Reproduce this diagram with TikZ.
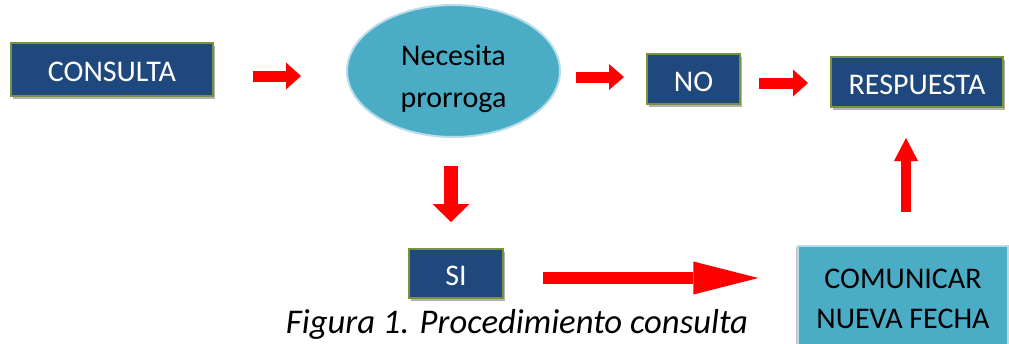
\documentclass[tikz,border=0pt]{standalone}
\usepackage{fontspec}
\setmainfont{Carlito}
\usetikzlibrary{arrows.meta,shapes.geometric,shadows}
\definecolor{dblue}{HTML}{1F497D}
\definecolor{olivebd}{HTML}{77933C}
\definecolor{tealfill}{HTML}{4BACC6}
\definecolor{tealedge}{HTML}{B6DDE8}
\begin{document}
\begin{tikzpicture}[x=0.75pt,y=-0.75pt,
  dbox/.style={draw=olivebd, line width=1.5pt, fill=dblue, text=white,
    font=\fontsize{22.5pt}{27pt}\selectfont, inner sep=0pt,
    text height=18.5pt, text depth=0pt,
    drop shadow={shadow xshift=1.5pt, shadow yshift=-2.2pt, opacity=0.3, fill=black}},
  lbox/.style={draw=tealedge, line width=1pt, fill=tealfill, text=black,
    font=\fontsize{22.5pt}{30pt}\selectfont, inner sep=0pt, align=center},
  blk/.style n args={3}{draw=red, line width=#1,
    -{Triangle[length=#2, width=#3, line width=0pt]}}]
\useasboundingbox (0,0) rectangle (1009,343);
% nodes
\node[dbox, minimum width=151.5pt, minimum height=39.75pt] (consulta) at (112,69.5) {CONSULTA};
\node[lbox, ellipse, line width=1.5pt, minimum width=159.75pt, minimum height=99pt] (ell) at (453.5,71) {};
\node[font=\fontsize{22.5pt}{31.5pt}\selectfont, align=center, inner sep=0pt] (elltxt)
  at ([yshift=-5.5pt]ell.center) {Necesita\\prorroga};
\node[dbox, minimum width=69.75pt, minimum height=37.5pt] (no) at (693.5,79) {NO};
\node[dbox, minimum width=129pt, minimum height=37.5pt] (resp) at (917,82) {RESPUESTA};
\node[dbox, minimum width=70.5pt, minimum height=36.75pt] (si) at (456,273.5) {SI};
\node[lbox, minimum width=157.5pt, minimum height=79.5pt,
  drop shadow={shadow xshift=-1.5pt, shadow yshift=-1pt, opacity=0.25, fill=black}] (com) at (903,299) {COMUNICAR\\NUEVA FECHA};
\node[anchor=base, font=\fontsize{26pt}{30pt}\selectfont\itshape] (cap) at (517,333) {Figura 1. Procedimiento consulta};
% connectors
\draw[blk={8.25pt}{11.25pt}{20.25pt}, shorten <=29.25pt, shorten >=33.75pt]
  ([yshift=-4.875pt]consulta.east) -- ([yshift=-3.75pt]ell.west);
\draw[blk={8.25pt}{11.25pt}{19.5pt}, shorten <=11.25pt, shorten >=16.5pt]
  ([yshift=-4.5pt]ell.east) -- ([yshift=1.5pt]no.west);
\draw[blk={8.25pt}{11.25pt}{20.25pt}, shorten <=13.5pt, shorten >=16.5pt]
  ([yshift=-3pt]no.east) -- ([yshift=-0.75pt]resp.west);
\draw[blk={10.5pt}{13.5pt}{27.75pt}, shorten <=21pt, shorten >=19.5pt]
  ([xshift=-1.875pt]ell.south) -- ([xshift=-3.75pt]si.north);
\draw[blk={9pt}{48.75pt}{24.75pt}, shorten <=29.25pt, shorten >=29.25pt]
  ([yshift=-3.375pt]si.east) -- ([yshift=15.75pt]com.west);
\draw[blk={7pt}{17.25pt}{18pt}, shorten <=24.75pt, shorten >=22.5pt]
  ([xshift=2.25pt]com.north) -- ([xshift=-8.25pt]resp.south);
\end{tikzpicture}
\end{document}
